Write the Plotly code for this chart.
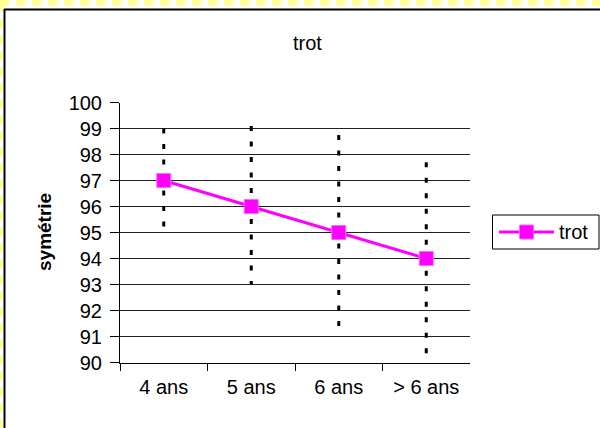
import plotly.graph_objects as go

W, H = 600, 428

categories = ["4 ans", "5 ans", "6 ans", "> 6 ans"]
values = [97, 96, 95, 94]
range_high = [99.0, 99.1, 98.75, 97.7]
range_low = [95.0, 93.0, 91.25, 90.3]
y_ticks = list(range(90, 101))
series_name = "trot"
chart_title = "trot"
y_title = "symétrie"

FONT = "Liberation Sans, Arial, sans-serif"
MAG = "#FF00FF"
FS = 20

px_l, px_r = 120, 470
py_t, py_b = 102.5, 362.5

def fx(px):
    return px / W

def fy(py):
    return 1 - py / H

fig = go.Figure()

# dotted vertical ranges, drawn from the top so the pattern starts with a dash there
for c, hi, lo in zip(categories, range_high, range_low):
    fig.add_trace(go.Scatter(
        x=[c, c], y=[hi, lo], mode="lines",
        line=dict(color="black", width=3, dash="5px,10.5px"),
        showlegend=False, hoverinfo="skip"))

fig.add_trace(go.Scatter(
    x=categories, y=values, mode="lines+markers", name=series_name,
    line=dict(color=MAG, width=3),
    marker=dict(symbol="square", size=14, color=MAG,
                line=dict(color="#FF66FF", width=1)),
    showlegend=False))

lg_l, lg_r, lg_t, lg_b = 492.5, 599, 215, 249
lg_mid = (lg_t + lg_b) / 2

shapes = [
    dict(type="line", xref="paper", yref="paper", x0=0, x1=1, y0=fy(3), y1=fy(3),
         line=dict(color="#FFFF99", width=6, dash="9px,7px")),
    dict(type="line", xref="paper", yref="paper", x0=fx(1.5), x1=fx(1.5), y0=0, y1=1,
         line=dict(color="#FFFF99", width=3, dash="9px,7px")),
    dict(type="line", xref="paper", yref="paper", x0=fx(4), x1=1, y0=fy(9.5), y1=fy(9.5),
         line=dict(color="black", width=2)),
    dict(type="line", xref="paper", yref="paper", x0=fx(4.5), x1=fx(4.5), y0=0, y1=fy(9),
         line=dict(color="black", width=2)),
    dict(type="rect", xref="paper", yref="paper", x0=fx(lg_l), x1=fx(lg_r),
         y0=fy(lg_b), y1=fy(lg_t), line=dict(color="black", width=1), fillcolor="white"),
    dict(type="line", xref="paper", yref="paper", x0=fx(499), x1=fx(554),
         y0=fy(lg_mid), y1=fy(lg_mid), line=dict(color=MAG, width=3)),
    dict(type="rect", xref="paper", yref="paper", x0=fx(519.5), x1=fx(533.5),
         y0=fy(lg_mid + 7), y1=fy(lg_mid - 7), line=dict(color="#FF66FF", width=1),
         fillcolor=MAG),
]

annotations = [
    dict(text=chart_title, xref="paper", yref="paper", x=fx(307), y=fy(43),
         showarrow=False, font=dict(family=FONT, size=FS, color="black"),
         xanchor="center", yanchor="middle"),
    dict(text="<b>" + y_title + "</b>", xref="paper", yref="paper", x=fx(45), y=fy(232),
         showarrow=False, textangle=-90, font=dict(family=FONT, size=19, color="black"),
         xanchor="center", yanchor="middle"),
    dict(text=series_name, xref="paper", yref="paper", x=fx(557), y=fy(lg_mid),
         showarrow=False, font=dict(family=FONT, size=FS, color="black"),
         xanchor="left", yanchor="middle"),
]

fig.update_layout(
    width=W, height=H,
    margin=dict(l=0, r=0, t=0, b=0),
    paper_bgcolor="white", plot_bgcolor="white",
    font=dict(family=FONT, size=FS, color="black"),
    shapes=shapes, annotations=annotations,
    showlegend=False,
    xaxis=dict(domain=[fx(px_l), fx(px_r)], type="category",
               range=[-0.5, len(categories) - 0.5],
               showgrid=False, showline=True, linecolor="black", linewidth=1,
               ticks="outside", tickson="boundaries", ticklen=7, tickcolor="black",
               ticklabelstandoff=6, zeroline=False, fixedrange=True, automargin=False),
    yaxis=dict(domain=[fy(py_b), fy(py_t)], range=[90, 100],
               tickvals=y_ticks, showgrid=True, gridcolor="#222222", gridwidth=1,
               showline=True, linecolor="black", linewidth=1,
               ticks="outside", ticklen=9, tickcolor="black",
               ticklabelstandoff=4, zeroline=False, fixedrange=True, automargin=False),
)

fig.write_html("out.html")
